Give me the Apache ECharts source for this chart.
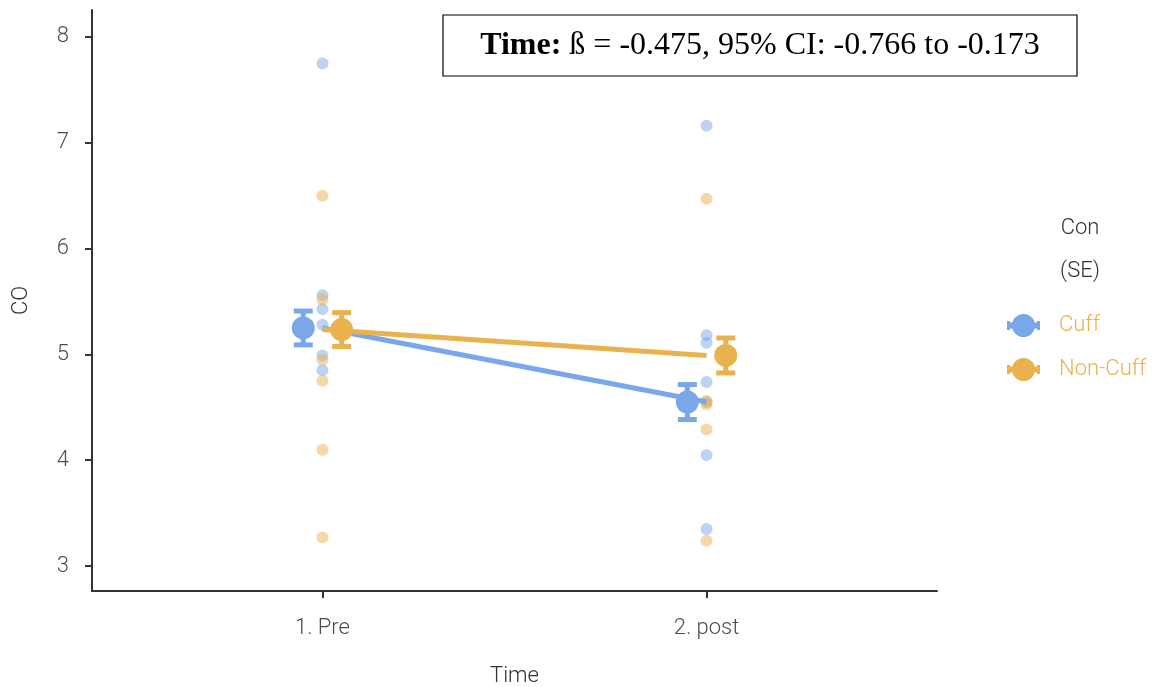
<!DOCTYPE html>
<html><head><meta charset="utf-8">
<script src="https://cdn.jsdelivr.net/npm/echarts@6/dist/echarts.min.js"></script>
<style>html,body{margin:0;padding:0;background:#fff}#c{width:1166px;height:687px}</style>
</head><body><div id="c"></div>
<script>
// ---- data ----
const timeLabels = ['1. Pre', '2. post'];
const groupNames = ['Cuff', 'Non-Cuff'];
const yTicks = [3, 4, 5, 6, 7, 8];
const cuffPre = [7.75, 5.56, 5.43, 5.28, 4.99, 4.85];
const cuffPost = [7.16, 5.18, 5.11, 4.74, 4.55, 4.05, 3.35];
const nonCuffPre = [6.50, 5.52, 4.95, 4.75, 4.10, 3.27];
const nonCuffPost = [6.47, 4.56, 4.53, 4.29, 3.24];
const cuffMean = [5.25, 4.55];
const cuffSE = [0.16, 0.165];
const nonCuffMean = [5.235, 4.99];
const nonCuffSE = [0.16, 0.165];
const annotationText = 'ß = -0.475, 95% CI: -0.766 to -0.173';

// ---- style ----
const BLUE = '#7AA7EA';
const ORANGE = '#E9B24F';
const FONT = 'Roboto';
const FS = 22;
const DODGE = 0.05;

function pts(pre, post) {
  return pre.map(v => [1, v]).concat(post.map(v => [2, v]));
}
function means(m, off) { return m.map((v, i) => [i + 1 + off, v]); }
function bars(m, se, off) { return m.map((v, i) => [i + 1 + off, v - se[i], v + se[i]]); }

function errRender(color) {
  return function (params, api) {
    const x = api.value(0);
    const lo = api.coord([x, api.value(1)]);
    const hi = api.coord([x, api.value(2)]);
    const w = 9.5;
    const st = { stroke: color, lineWidth: 5 };
    return {
      type: 'group',
      children: [
        { type: 'line', shape: { x1: lo[0], y1: lo[1], x2: hi[0], y2: hi[1] }, style: st },
        { type: 'line', shape: { x1: lo[0] - w, y1: lo[1], x2: lo[0] + w, y2: lo[1] }, style: st },
        { type: 'line', shape: { x1: hi[0] - w, y1: hi[1], x2: hi[0] + w, y2: hi[1] }, style: st }
      ]
    };
  };
}

const legendIcon = 'path://M0,7 H3 V16 H0 Z M30,7 H33 V16 H30 Z M3,8.5 H30 V14.5 H3 Z M5,11.5 A11.5,11.5 0 1,1 28,11.5 A11.5,11.5 0 1,1 5,11.5 Z';

const chart = echarts.init(document.getElementById('c'), null, { renderer: 'canvas' });
chart.setOption({
  animation: false,
  backgroundColor: '#fff',
  grid: { left: 92, right: 229, top: 10, bottom: 96, outerBoundsMode: 'none', containLabel: false },
  xAxis: {
    type: 'value', min: 0.4, max: 2.6,
    splitLine: { show: false },
    axisLine: { show: true, onZero: false, lineStyle: { color: '#333', width: 2 } },
    axisTick: { show: true, customValues: [1, 2], length: 7, lineStyle: { color: '#333', width: 2 } },
    axisLabel: { customValues: [1, 2], formatter: v => timeLabels[Math.round(v) - 1], color: '#4D4D4D', fontSize: FS, fontFamily: FONT, fontWeight: 300, margin: 26 },
    name: 'Time', nameLocation: 'middle', nameGap: 74,
    nameTextStyle: { color: '#333', fontSize: FS, fontFamily: FONT, fontWeight: 300 }
  },
  yAxis: {
    type: 'value', min: 2.764, max: 8.255,
    splitLine: { show: false },
    axisLine: { show: true, onZero: false, lineStyle: { color: '#333', width: 2 } },
    axisTick: { show: true, customValues: yTicks, length: 7, lineStyle: { color: '#333', width: 2 } },
    axisLabel: { customValues: yTicks, color: '#4D4D4D', fontSize: FS, fontFamily: FONT, fontWeight: 300, margin: 23 },
    name: 'CO', nameLocation: 'middle', nameGap: 60,
    nameTextStyle: { color: '#333', fontSize: FS, fontFamily: FONT, fontWeight: 300 }
  },
  legend: {
    data: groupNames,
    orient: 'vertical', left: 1002, top: 309,
    itemWidth: 33, itemHeight: 23, itemGap: 21,
    icon: legendIcon,
    textStyle: { color: ORANGE, fontSize: FS, fontFamily: FONT, fontWeight: 300, padding: [0, 0, 0, 14] },
    selectedMode: false
  },
  graphic: [
    { type: 'rect', shape: { x: 443, y: 15, width: 634, height: 61 }, style: { fill: '#fff', stroke: '#000', lineWidth: 1.2 }, z: 100 },
    { type: 'text', x: 760, y: 46, z: 101,
      style: { text: '{b|Time:} ' + annotationText, fill: '#000', font: '32px "Liberation Serif"', align: 'center', verticalAlign: 'middle',
        rich: { b: { fontWeight: 'bold', fontSize: 32, fontFamily: 'Liberation Serif', fill: '#000' } } } },
    { type: 'text', x: 1080, y: 228, style: { text: 'Con', fill: '#333', font: '300 22px Roboto', align: 'center', verticalAlign: 'middle' } },
    { type: 'text', x: 1080, y: 271, style: { text: '(SE)', fill: '#333', font: '300 22px Roboto', align: 'center', verticalAlign: 'middle' } }
  ],
  series: [
    { type: 'scatter', name: 'Cuff points', data: pts(cuffPre, cuffPost), symbolSize: 12, itemStyle: { color: BLUE, opacity: 0.5 }, z: 1, silent: true },
    { type: 'scatter', name: 'Non-Cuff points', data: pts(nonCuffPre, nonCuffPost), symbolSize: 12, itemStyle: { color: ORANGE, opacity: 0.5 }, z: 1, silent: true },
    { type: 'line', name: 'Cuff line', data: means(cuffMean, 0), showSymbol: false, lineStyle: { color: BLUE, width: 5 }, itemStyle: { color: BLUE }, z: 2 },
    { type: 'line', name: 'Non-Cuff line', data: means(nonCuffMean, 0), showSymbol: false, lineStyle: { color: ORANGE, width: 5 }, itemStyle: { color: ORANGE }, z: 3 },
    { type: 'custom', name: 'Cuff SE', data: bars(cuffMean, cuffSE, -DODGE), renderItem: errRender(BLUE), z: 4 },
    { type: 'custom', name: 'Non-Cuff SE', data: bars(nonCuffMean, nonCuffSE, DODGE), renderItem: errRender(ORANGE), z: 4 },
    { type: 'scatter', name: 'Cuff', data: means(cuffMean, -DODGE), symbolSize: 23, itemStyle: { color: BLUE, opacity: 1 }, z: 5 },
    { type: 'scatter', name: 'Non-Cuff', data: means(nonCuffMean, DODGE), symbolSize: 23, itemStyle: { color: ORANGE, opacity: 1 }, z: 5 }
  ]
});
</script></body></html>
